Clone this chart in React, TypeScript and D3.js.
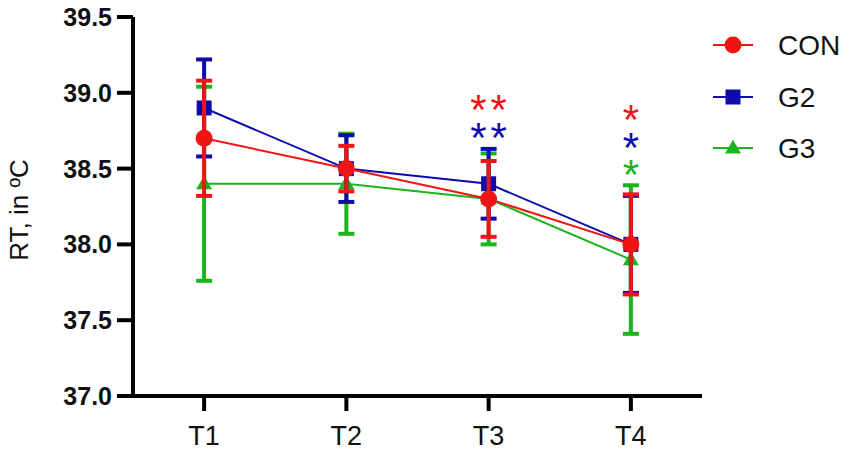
import React from "react";
import * as d3 from "d3";

const categories = ["T1", "T2", "T3", "T4"];
const seriesNames = ["CON", "G2", "G3"];
const conMean = [38.7, 38.5, 38.3, 38.0];
const conErr = [0.38, 0.15, 0.25, 0.33];
const g2Mean = [38.9, 38.5, 38.4, 38.0];
const g2Err = [0.32, 0.22, 0.23, 0.32];
const g3Mean = [38.4, 38.4, 38.3, 37.9];
const g3Err = [0.64, 0.33, 0.3, 0.49];
const yTicks = [37.0, 37.5, 38.0, 38.5, 39.0, 39.5];
// significance marks
const starCats = ["T3", "T3", "T4", "T4", "T4"];
const starSeries = ["CON", "G2", "CON", "G2", "G3"];
const starLabels = ["**", "**", "*", "*", "*"];
const starLevels = [0, 1, 0, 1, 2];

const colors: Record<string, string> = { CON: "#f01414", G2: "#0c0cae", G3: "#1cb41c" };

const W = 851, H = 454;
const left = 133, right = 702, top = 17, bottom = 396;

export default function App() {
  const x = d3.scalePoint<string>().domain(categories).range([left, right]).padding(0.5);
  const y = d3.scaleLinear().domain([37, 39.5]).range([bottom, top]);
  const data: Record<string, { m: number[]; e: number[] }> = {
    CON: { m: conMean, e: conErr },
    G2: { m: g2Mean, e: g2Err },
    G3: { m: g3Mean, e: g3Err },
  };
  const drawOrder = ["G3", "G2", "CON"];
  const line = d3.line<number>().x((_, i) => x(categories[i])!).y((v) => y(v));
  const font = "'Liberation Sans', Arial, sans-serif";

  const marker = (name: string, cx: number, cy: number, key: string) => {
    const c = colors[name];
    if (name === "CON") return <circle key={key} cx={cx} cy={cy} r={8.5} fill={c} />;
    if (name === "G2") return <rect key={key} x={cx - 7.5} y={cy - 7.5} width={15} height={15} fill={c} />;
    const p = d3.symbol().type(d3.symbolTriangle).size(110)()!;
    return <path key={key} d={p} transform={`translate(${cx},${cy + 1})`} fill={c} />;
  };

  const starLevelY = [100, 128, 156];
  const starLevelY4 = [110, 138, 165];

  return (
    <svg width={W} height={H} style={{ position: "absolute", left: 0, top: 0, background: "#fff" }} fontFamily={font}>
      {/* axes */}
      <line x1={left} x2={left} y1={top} y2={bottom + 2} stroke="#000" strokeWidth={4} />
      <line x1={left - 2} x2={right} y1={bottom} y2={bottom} stroke="#000" strokeWidth={4} />
      {yTicks.map((t) => (
        <g key={t}>
          <line x1={left - 16} x2={left} y1={y(t)} y2={y(t)} stroke="#000" strokeWidth={4} />
          <text x={112} y={y(t)} dy="0.36em" textAnchor="end" fontSize={25} fontWeight="bold" fill="#111">
            {t.toFixed(1)}
          </text>
        </g>
      ))}
      {categories.map((c) => (
        <g key={c}>
          <line x1={x(c)} x2={x(c)} y1={bottom} y2={bottom + 15} stroke="#000" strokeWidth={4} />
          <text x={x(c)} y={445} textAnchor="middle" fontSize={27} fill="#111">
            {c}
          </text>
        </g>
      ))}
      <text transform={`translate(28,210) rotate(-90)`} textAnchor="middle" fontSize={26} fill="#111">
        RT, in ºC
      </text>

      {/* series */}
      {drawOrder.map((name) => {
        const { m, e } = data[name];
        const c = colors[name];
        return (
          <g key={name}>
            <path d={line(m)!} fill="none" stroke={c} strokeWidth={2} />
            {m.map((v, i) => {
              const cx = x(categories[i])!;
              const y1 = y(v + e[i]);
              const y2 = y(v - e[i]);
              return (
                <g key={i}>
                  <line x1={cx} x2={cx} y1={y1} y2={y2} stroke={c} strokeWidth={4} />
                  <line x1={cx - 8} x2={cx + 8} y1={y1} y2={y1} stroke={c} strokeWidth={4} />
                  <line x1={cx - 8} x2={cx + 8} y1={y2} y2={y2} stroke={c} strokeWidth={4} />
                </g>
              );
            })}
            {m.map((v, i) => marker(name, x(categories[i])!, y(v), `m${i}`))}
          </g>
        );
      })}

      {/* significance stars */}
      {starLabels.map((s, i) => {
        const cx = x(starCats[i])! + (s.length > 1 ? 2 : 0);
        const cy = starCats[i] === "T3" ? starLevelY[starLevels[i]] : starLevelY4[starLevels[i]];
        return (
          <text key={i} x={cx} y={cy + 24} textAnchor="middle" fontSize={42} fill={colors[starSeries[i]]} letterSpacing={s.length > 1 ? 4 : 0}>
            {s}
          </text>
        );
      })}

      {/* legend */}
      {seriesNames.map((name, i) => {
        const ly = [45, 97, 148][i];
        return (
          <g key={name}>
            <line x1={713} x2={753} y1={ly} y2={ly} stroke={colors[name]} strokeWidth={2} />
            {marker(name, 733, ly, "lm")}
            <text x={778} y={ly} dy="0.36em" fontSize={28} fill="#111">
              {name}
            </text>
          </g>
        );
      })}
    </svg>
  );
}
